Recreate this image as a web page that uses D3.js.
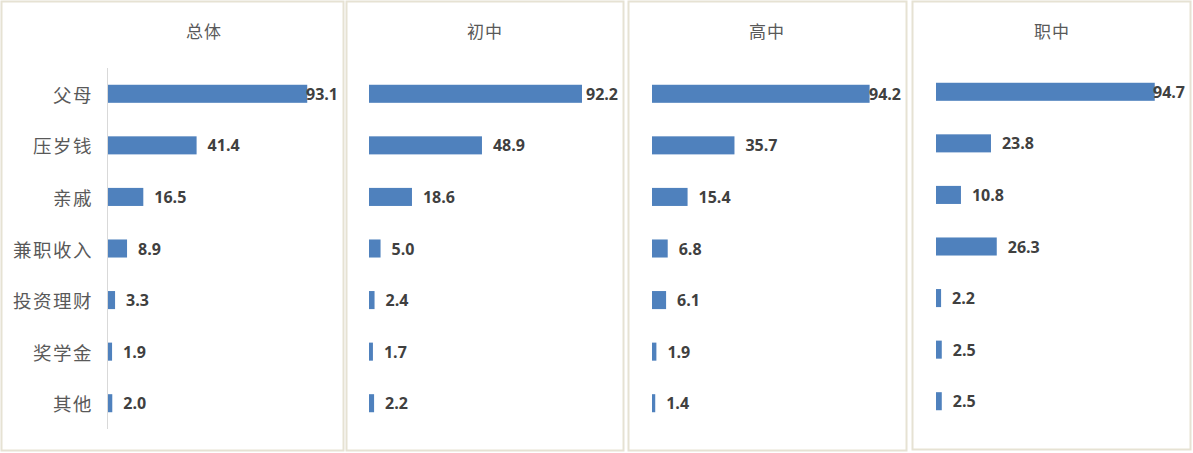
<!DOCTYPE html>
<html>
<head>
<meta charset="utf-8">
<script src="https://cdn.jsdelivr.net/npm/d3@7"></script>
<style>
  body { margin: 0; background: #fff; }
  svg { display: block; }
</style>
</head>
<body>
<svg id="chart" width="1193" height="453"></svg>
<script>
// data
const categories = ["父母", "压岁钱", "亲戚", "兼职收入", "投资理财", "奖学金", "其他"];
const groups = ["总体", "初中", "高中", "职中"];
const totalValues = [93.1, 41.4, 16.5, 8.9, 3.3, 1.9, 2.0];
const juniorValues = [92.2, 48.9, 18.6, 5.0, 2.4, 1.7, 2.2];
const seniorValues = [94.2, 35.7, 15.4, 6.8, 6.1, 1.9, 1.4];
const vocationalValues = [94.7, 23.8, 10.8, 26.3, 2.2, 2.5, 2.5];
const seriesValues = [totalValues, juniorValues, seniorValues, vocationalValues];

// layout of each panel (frame + plot area)
const panels = [
  { x0: 1, x1: 344, y0: 1, y1: 451, plotX: 108, plotW: 214, bandTop: 68, bandBot: 429, titleX: 204, axis: true, labels: true },
  { x0: 346, x1: 624, y0: 1, y1: 451, plotX: 369, plotW: 231, bandTop: 68, bandBot: 429, titleX: 485 },
  { x0: 628, x1: 907, y0: 1, y1: 451, plotX: 652, plotW: 231, bandTop: 68, bandBot: 429, titleX: 767 },
  { x0: 912, x1: 1191, y0: 1, y1: 450, plotX: 936, plotW: 231, bandTop: 66, bandBot: 427, titleX: 1052 }
];

const svg = d3.select("#chart");

panels.forEach(function(p, i) {
  const g = svg.append("g");

  g.append("rect")
    .attr("x", p.x0 + 0.5).attr("y", p.y0 + 0.5)
    .attr("width", p.x1 - p.x0 - 1).attr("height", p.y1 - p.y0 - 1)
    .attr("fill", "#fff")
    .attr("stroke", "#e6e2d3")
    .attr("stroke-width", 2);

  g.append("text")
    .attr("x", p.titleX).attr("y", 30)
    .attr("text-anchor", "middle")
    .attr("dominant-baseline", "central")
    .attr("font-family", "'Noto Sans CJK SC', sans-serif")
    .attr("font-size", 17)
    .attr("letter-spacing", 1)
    .attr("fill", "#595959")
    .text(groups[i]);

  const x = d3.scaleLinear().domain([0, 100]).range([p.plotX, p.plotX + p.plotW]);
  const y = d3.scaleBand().domain(categories).range([p.bandTop, p.bandBot]).paddingInner(0.65).paddingOuter(0.325);

  if (p.axis) {
    g.append("line")
      .attr("x1", p.plotX - 0.5).attr("x2", p.plotX - 0.5)
      .attr("y1", p.bandTop).attr("y2", p.bandBot)
      .attr("stroke", "#d9d9d9").attr("stroke-width", 1);
  }

  if (p.labels) {
    g.selectAll(".cat")
      .data(categories)
      .enter().append("text")
      .attr("x", 93)
      .attr("y", d => y(d) + y.bandwidth() / 2)
      .attr("text-anchor", "end")
      .attr("dominant-baseline", "central")
      .attr("font-family", "'Noto Sans CJK SC', sans-serif")
      .attr("font-size", 18.5)
      .attr("letter-spacing", 1.5)
      .attr("fill", "#595959")
      .text(d => d);
  }

  const vals = seriesValues[i];

  g.selectAll(".bar")
    .data(vals)
    .enter().append("rect")
    .attr("x", p.plotX)
    .attr("y", (d, j) => y(categories[j]))
    .attr("width", d => x(d) - p.plotX)
    .attr("height", y.bandwidth())
    .attr("fill", "#4f81bd");

  g.selectAll(".val")
    .data(vals)
    .enter().append("text")
    .attr("y", (d, j) => y(categories[j]) + y.bandwidth() / 2)
    .attr("dominant-baseline", "central")
    .attr("font-family", "'Open Sans', sans-serif")
    .attr("font-weight", 700)
    .attr("font-size", 16)
    .attr("fill", "#404040")
    .text(d => d.toFixed(1))
    .attr("x", function(d) {
      const w = this.getComputedTextLength();
      return Math.min(x(d) + 11, p.x1 - 6 - w);
    });
});
</script>
</body>
</html>
